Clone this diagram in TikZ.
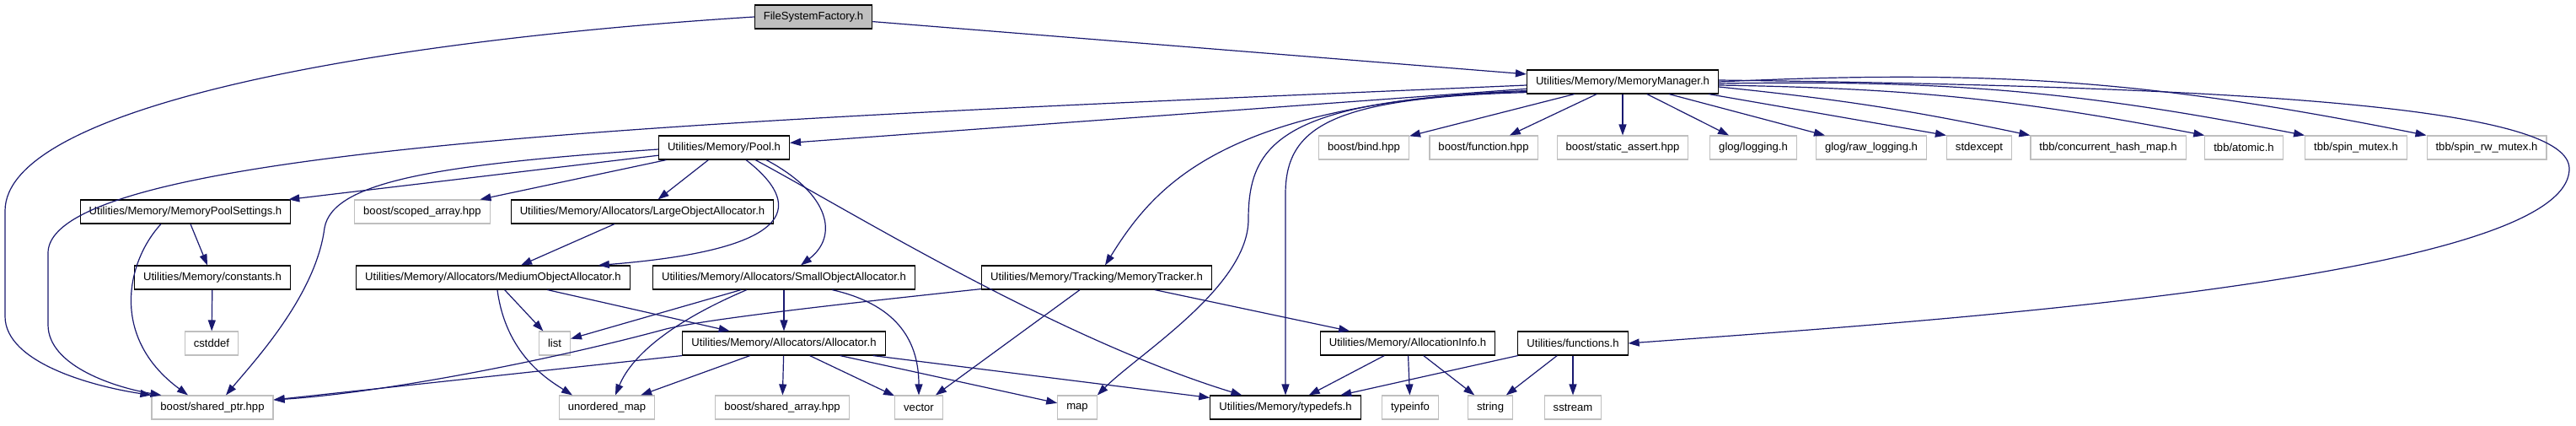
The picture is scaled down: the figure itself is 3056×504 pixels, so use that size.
\documentclass[tikz,border=0pt]{standalone}
\usepackage{fontspec}
\setmainfont{Liberation Sans}
\usetikzlibrary{arrows.meta}

\definecolor{edgeblue}{HTML}{191970}
\definecolor{extgray}{HTML}{BFBFBF}

\begin{document}
\begin{tikzpicture}[
    x=1pt, y=-1pt,
    font=\fontsize{13.1}{15}\selectfont,
    base/.style={line width=1.1pt, inner xsep=10.5pt, inner ysep=0pt, minimum height=28pt},
    doc/.style={base, draw=black, fill=white},
    ext/.style={base, draw=extgray, fill=white},
    cur/.style={base, draw=black, fill=extgray},
    fl/.style={-{Triangle[length=13pt, width=9pt]}, draw=edgeblue, line width=1.2pt}
]
\useasboundingbox[fill=white] (0,0) rectangle (3056,504);

% ===== FILE CORRENTE + MEMORY MANAGER =====
\node[cur] (FSF) at (965,20) {FileSystemFactory.h};
\node[doc] (MM) at (1925,97) {Utilities/Memory/MemoryManager.h};

% ===== RIGA 2 =====
\node[doc] (POOL) at (859,175) {Utilities/Memory/Pool.h};
\node[ext] (BIND) at (1618,175) {boost/bind.hpp};
\node[ext] (FUNC) at (1760,175) {boost/function.hpp};
\node[ext] (SASSERT) at (1925,175) {boost/static\_assert.hpp};
\node[ext] (GLOG) at (2080,175) {glog/logging.h};
\node[ext] (RAWLOG) at (2220,175) {glog/raw\_logging.h};
\node[ext] (STDEXC) at (2348,175) {stdexcept};
\node[ext] (CHMAP) at (2501,175) {tbb/concurrent\_hash\_map.h};
\node[ext] (ATOMIC) at (2662,175) {tbb/atomic.h};
\node[ext] (SPINM) at (2795,175) {tbb/spin\_mutex.h};
\node[ext] (SPINRW) at (2950,175) {tbb/spin\_rw\_mutex.h};

% ===== RIGA 3 =====
\node[doc] (MPS) at (220,251) {Utilities/Memory/MemoryPoolSettings.h};
\node[ext] (SCARR) at (501,251) {boost/scoped\_array.hpp};
\node[doc] (LOA) at (762,251) {Utilities/Memory/Allocators/LargeObjectAllocator.h};

% ===== RIGA 4 =====
\node[doc] (CONST) at (252,329) {Utilities/Memory/constants.h};
\node[doc] (MOA) at (585,329) {Utilities/Memory/Allocators/MediumObjectAllocator.h};
\node[doc] (SOA) at (930,329) {Utilities/Memory/Allocators/SmallObjectAllocator.h};
\node[doc] (TRACK) at (1301,329) {Utilities/Memory/Tracking/MemoryTracker.h};

% ===== RIGA 5 =====
\node[ext] (CSTDDEF) at (251,407) {cstddef};
\node[ext] (LIST) at (658,407) {list};
\node[doc] (ALLOC) at (930,407) {Utilities/Memory/Allocators/Allocator.h};
\node[doc] (AINFO) at (1670,407) {Utilities/Memory/AllocationInfo.h};
\node[doc] (FUNCS) at (1866,407) {Utilities/functions.h};

% ===== RIGA 6 (foglie) =====
\node[ext] (SHPTR) at (252,483) {boost/shared\_ptr.hpp};
\node[ext] (UMAP) at (720,483) {unordered\_map};
\node[ext] (SHARR) at (928,483) {boost/shared\_array.hpp};
\node[ext] (VECTOR) at (1090,483) {vector};
\node[ext] (MAP) at (1278,483) {map};
\node[doc] (TYPEDEFS) at (1525,483) {Utilities/Memory/typedefs.h};
\node[ext] (TYPEINFO) at (1673,483) {typeinfo};
\node[ext] (STRING) at (1768,483) {string};
\node[ext] (SSTREAM) at (1866,483) {sstream};

% ===== ARCHI DA FileSystemFactory.h =====
\draw[fl] (FSF) -- (MM);
\draw[fl] (FSF.west) .. controls (420,50) and (6,130) .. (6,250) -- (6,375)
  .. controls (6,430) and (110,458) .. (SHPTR.north west);

% ===== ARCHI DA MemoryManager.h =====
\draw[fl] (MM) -- (POOL);
\draw[fl] ([yshift=-4pt]MM.west) .. controls (900,140) and (57,170) .. (57,300) -- (57,385)
  .. controls (57,435) and (140,460) .. ([xshift=12pt]SHPTR.north west);
\draw[fl] ([yshift=4pt]MM.south west) .. controls (1450,122) and (1370,220) .. ([xshift=10pt]TRACK.north);
\draw[fl] ([yshift=3pt]MM.south west) .. controls (1520,118) and (1481,170) .. (1481,260)
  .. controls (1481,340) and (1350,420) .. (MAP.north east);
\draw[fl] ([yshift=2pt]MM.south west) .. controls (1580,116) and (1525,150) .. (1525,230) -- (TYPEDEFS.north);
\foreach \t in {BIND,FUNC,SASSERT,GLOG,RAWLOG}
  \draw[fl] (MM) -- (\t);
\draw[fl] ([xshift=-12pt]MM.south east) -- (STDEXC.north west);
\draw[fl] ([yshift=-6pt]MM.east) to[bend left=3] (CHMAP.north west);
\draw[fl] ([yshift=-4pt]MM.east) to[bend left=5] (ATOMIC.north west);
\draw[fl] ([yshift=-2pt]MM.east) to[bend left=6] (SPINM.north west);
\draw[fl] (MM.east) to[bend left=7] (SPINRW.north west);
\draw[fl] ([yshift=2pt]MM.east) .. controls (2700,103) and (3048,130) .. (3048,200)
  .. controls (3048,330) and (2300,380) .. (FUNCS.east);

% ===== ARCHI DA Pool.h =====
\draw[fl] (POOL) -- (MPS);
\draw[fl] (POOL) -- (SCARR);
\draw[fl] (POOL) -- (LOA);
\draw[fl] ([yshift=-2pt]POOL.west) .. controls (520,195) and (395,215) .. (385,270)
  .. controls (375,350) and (300,430) .. ([xshift=16pt]SHPTR.north);
\draw[fl] ([xshift=26pt]POOL.south) .. controls (950,240) and (955,295) .. ([xshift=-38pt]MOA.north east);
\draw[fl] ([xshift=50pt]POOL.south) .. controls (985,230) and (995,280) .. ([xshift=20pt]SOA.north);
\draw[fl] ([xshift=37pt]POOL.south) .. controls (1000,245) and (1250,400) .. ([xshift=38pt]TYPEDEFS.north west);

% ===== ARCHI DEGLI ALLOCATORI =====
\draw[fl] (MPS) -- (CONST);
\draw[fl] ([xshift=-29pt]MPS.south) .. controls (150,310) and (130,400) .. ([xshift=-29pt]SHPTR.north);
\draw[fl] (CONST) -- (CSTDDEF);
\draw[fl] (LOA) -- (MOA);
\draw[fl] (MOA) -- (LIST);
\draw[fl] ([xshift=5pt]MOA.south) .. controls (600,420) and (650,450) .. ([xshift=-41pt]UMAP.north);
\draw[fl] (MOA) -- (ALLOC);
\draw[fl] (SOA) -- (LIST);
\draw[fl] ([xshift=-44pt]SOA.south) .. controls (800,380) and (750,420) .. ([xshift=10pt]UMAP.north);
\draw[fl] (SOA) -- (ALLOC);
\draw[fl] ([xshift=57pt]SOA.south) .. controls (1060,360) and (1090,400) .. (VECTOR.north);
\draw[fl] (ALLOC.south west) -- ([yshift=9pt]SHPTR.east);
\foreach \t in {UMAP,SHARR,VECTOR,MAP}
  \draw[fl] (ALLOC) -- (\t);
\draw[fl] ([xshift=-15pt]ALLOC.south east) -- ([yshift=-3pt]TYPEDEFS.north west);

% ===== ARCHI DI TRACKING E UTILITY =====
% passa sopra l'angolo sinistro di Allocator.h
\draw[fl] ([yshift=1pt]TRACK.south west) .. controls (1000,360) and (840,378) .. (790,390)
  .. controls (650,428) and (450,466) .. ([yshift=9pt]SHPTR.east);
\draw[fl] (TRACK) -- (VECTOR);
\draw[fl] (TRACK) -- (AINFO);
\foreach \t in {TYPEDEFS,TYPEINFO,STRING}
  \draw[fl] (AINFO) -- (\t);
\foreach \t in {TYPEDEFS,STRING,SSTREAM}
  \draw[fl] (FUNCS) -- (\t);

\end{tikzpicture}
\end{document}
